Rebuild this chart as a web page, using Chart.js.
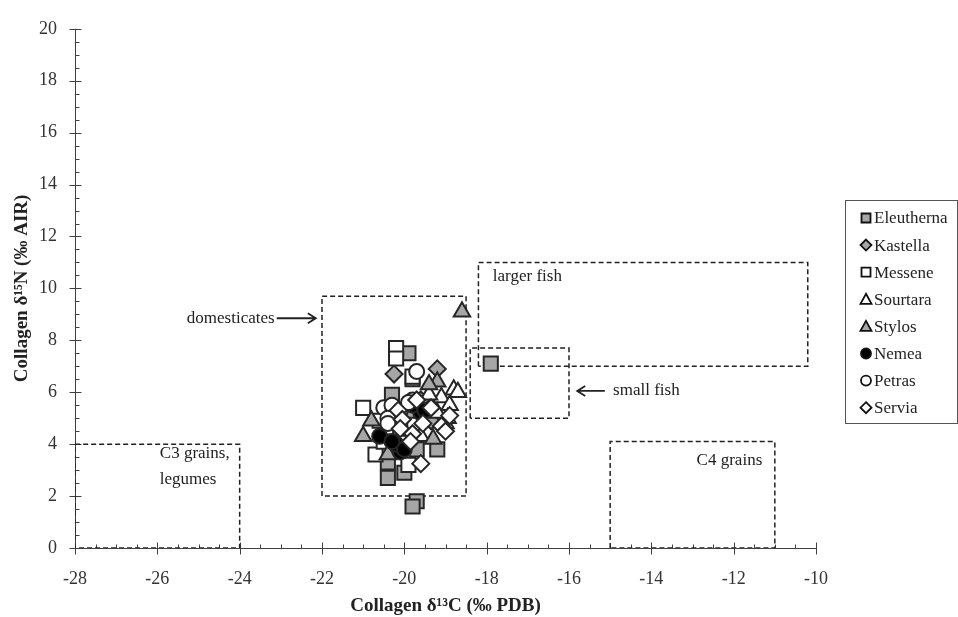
<!DOCTYPE html>
<html>
<head>
<meta charset="utf-8">
<script src="https://cdn.jsdelivr.net/npm/chart.js@4.4.1/dist/chart.umd.min.js"></script>
<style>
  body { margin: 0; background: #fff; }
  #wrap { width: 958px; height: 617px; }
</style>
</head>
<body>
<div id="wrap"><canvas id="isoChart" width="958" height="617"></canvas></div>
<script>
// site series (δ13C, δ15N)
const eleuthernaX = [-17.9, -19.7, -19.8, -20.4, -20.0, -19.2, -19.7, -19.9, -20.3, -19.8, -20.4, -19.5, -20.1];
const eleuthernaY = [7.1, 1.8, 1.6, 2.7, 2.9, 3.8, 3.8, 7.5, 5.9, 6.5, 3.3, 5.0, 4.6];
const kastellaX = [-20.25, -19.2, -19.6, -19.35];
const kastellaY = [6.7, 6.9, 5.7, 4.9];
const messeneX = [-20.2, -20.2, -21.0, -20.7, -19.8, -20.5, -19.9, -20.6];
const messeneY = [7.7, 7.3, 5.4, 3.6, 6.6, 4.1, 3.2, 4.9];
const sourtaraX = [-18.8, -18.7, -19.1, -18.9, -19.2, -19.4, -19.0, -19.6, -18.95];
const sourtaraY = [6.1, 6.0, 5.8, 5.5, 5.2, 5.9, 4.8, 4.3, 5.0];
const stylosX = [-18.6, -19.2, -19.4, -21.0, -20.4, -19.3, -20.8, -19.8];
const stylosY = [9.1, 6.4, 6.3, 4.3, 3.6, 4.2, 4.9, 5.2];
const nemeaX = [-20.6, -20.1, -20.2, -19.6, -20.0, -19.8, -20.3, -19.5];
const nemeaY = [4.3, 3.7, 4.0, 5.2, 3.8, 5.5, 4.1, 5.3];
const petrasX = [-19.7, -20.5, -20.3, -20.4, -19.8, -20.1, -20.4, -19.9];
const petrasY = [6.8, 5.4, 5.5, 5.0, 5.7, 5.3, 4.8, 5.6];
const serviaX = [-20.15, -19.7, -20.05, -20.1, -19.8, -19.85, -19.6, -19.1, -18.9, -19.55, -19.35, -19.0];
const serviaY = [5.3, 5.7, 4.95, 4.6, 4.4, 4.1, 3.25, 4.7, 5.1, 4.8, 5.4, 4.5];

const siteNames = ['Eleutherna', 'Kastella', 'Messene', 'Sourtara', 'Stylos', 'Nemea', 'Petras', 'Servia'];
const siteX = [eleuthernaX, kastellaX, messeneX, sourtaraX, stylosX, nemeaX, petrasX, serviaX];
const siteY = [eleuthernaY, kastellaY, messeneY, sourtaraY, stylosY, nemeaY, petrasY, serviaY];

// food-source boxes
const boxNames = ['C3 grains', 'domesticates', 'larger fish', 'small fish', 'C4 grains'];
const boxX0 = [-28, -22, -18.2, -18.4, -15];
const boxX1 = [-24, -18.5, -10.2, -16, -11];
const boxY0 = [0, 2, 7, 5, 0];
const boxY1 = [4, 9.7, 11, 7.7, 4.1];

const xMin = -28, xMax = -10, yMin = 0, yMax = 20;

const serif = "'Liberation Serif', 'Times New Roman', serif";
const grey = '#a6a6a6';
const edge = '#262626';

const markerStyle = {
  Eleutherna: { pointStyle: 'rect', fill: grey, r: 10 },
  Kastella: { pointStyle: 'rectRot', fill: grey, r: 8.5 },
  Messene: { pointStyle: 'rect', fill: '#fff', r: 10 },
  Sourtara: { pointStyle: 'triangle', fill: '#fff', r: 9.5 },
  Stylos: { pointStyle: 'triangle', fill: grey, r: 9.5 },
  Nemea: { pointStyle: 'circle', fill: '#000', r: 7.5 },
  Petras: { pointStyle: 'circle', fill: '#fff', r: 7.5 },
  Servia: { pointStyle: 'rectRot', fill: '#fff', r: 8.5 }
};

const datasets = siteNames.map((name, i) => {
  const m = markerStyle[name];
  return {
    label: name,
    data: siteX[i].map((x, k) => ({ x: x, y: siteY[i][k] })),
    pointStyle: m.pointStyle,
    pointRadius: m.r,
    backgroundColor: m.fill,
    borderColor: edge,
    borderWidth: 2,
    order: siteNames.length - i
  };
});

boxNames.forEach((name, i) => {
  datasets.push({
    label: name,
    data: [
      { x: boxX0[i], y: boxY0[i] }, { x: boxX0[i], y: boxY1[i] },
      { x: boxX1[i], y: boxY1[i] }, { x: boxX1[i], y: boxY0[i] },
      { x: boxX0[i], y: boxY0[i] }
    ],
    showLine: true,
    pointRadius: 0,
    borderColor: '#222',
    borderWidth: 1.5,
    borderDash: [5, 3],
    fill: false,
    order: 100
  });
});

// axis lines and tick marks
const axisTicks = {
  id: 'axisTicks',
  beforeDatasetsDraw(chart) {
    const { ctx, scales: { x, y } } = chart;
    ctx.save();
    ctx.strokeStyle = '#404040';
    ctx.lineWidth = 1;
    ctx.beginPath();
    const ax = Math.round(x.getPixelForValue(xMin)) + 0.5;
    const ay = Math.round(y.getPixelForValue(yMin)) + 0.5;
    ctx.moveTo(ax, y.getPixelForValue(yMax));
    ctx.lineTo(ax, ay);
    ctx.lineTo(x.getPixelForValue(xMax), ay);
    for (let v = yMin; v <= yMax; v += 0.5) {
      const py = Math.round(y.getPixelForValue(v)) + 0.5;
      const major = v % 2 === 0;
      ctx.moveTo(ax - (major ? 6 : 0), py);
      ctx.lineTo(ax + (major ? 6 : 4), py);
    }
    for (let v = xMin; v <= xMax; v += 0.5) {
      const px = Math.round(x.getPixelForValue(v)) + 0.5;
      const major = v % 2 === 0;
      ctx.moveTo(px, ay + (major ? 6 : 0));
      ctx.lineTo(px, ay - (major ? 6 : 4));
    }
    ctx.stroke();
    ctx.restore();
  }
};

function arrow(ctx, x0, y0, x1, y1) {
  const dir = Math.sign(x1 - x0);
  ctx.beginPath();
  ctx.moveTo(x0, y0);
  ctx.lineTo(x1, y1);
  ctx.moveTo(x1 - dir * 8, y1 - 5);
  ctx.lineTo(x1, y1);
  ctx.lineTo(x1 - dir * 8, y1 + 5);
  ctx.stroke();
}

// labels for the boxes
const boxLabels = {
  id: 'boxLabels',
  afterDatasetsDraw(chart) {
    const { ctx, scales: { x, y } } = chart;
    ctx.save();
    ctx.fillStyle = '#222';
    ctx.strokeStyle = '#222';
    ctx.lineWidth = 1.8;
    ctx.font = '17px ' + serif;
    ctx.textBaseline = 'middle';
    ctx.textAlign = 'right';
    ctx.fillText('domesticates', x.getPixelForValue(-23.15), y.getPixelForValue(8.85));
    arrow(ctx, x.getPixelForValue(-23.1), y.getPixelForValue(8.85), x.getPixelForValue(-22.15), y.getPixelForValue(8.85));
    ctx.textAlign = 'left';
    ctx.fillText('larger fish', x.getPixelForValue(-17.85), y.getPixelForValue(10.45));
    ctx.fillText('small fish', x.getPixelForValue(-14.93), y.getPixelForValue(6.08));
    arrow(ctx, x.getPixelForValue(-15.13), y.getPixelForValue(6.05), x.getPixelForValue(-15.8), y.getPixelForValue(6.05));
    ctx.fillText('C3 grains,', x.getPixelForValue(-25.94), y.getPixelForValue(3.62));
    ctx.fillText('legumes', x.getPixelForValue(-25.94), y.getPixelForValue(2.64));
    ctx.fillText('C4 grains', x.getPixelForValue(-12.9), y.getPixelForValue(3.36));
    ctx.restore();
  }
};

function drawMarker(ctx, style, cx, cy, r) {
  ctx.beginPath();
  if (style === 'rect') {
    ctx.rect(cx - r, cy - r, 2 * r, 2 * r);
  } else if (style === 'rectRot') {
    ctx.moveTo(cx, cy - r - 1); ctx.lineTo(cx + r + 1, cy); ctx.lineTo(cx, cy + r + 1); ctx.lineTo(cx - r - 1, cy); ctx.closePath();
  } else if (style === 'triangle') {
    ctx.moveTo(cx, cy - r - 1); ctx.lineTo(cx + r + 1, cy + r); ctx.lineTo(cx - r - 1, cy + r); ctx.closePath();
  } else {
    ctx.arc(cx, cy, r + 0.5, 0, Math.PI * 2);
  }
  ctx.fill();
  ctx.stroke();
}

// legend box at the right
const sideLegend = {
  id: 'sideLegend',
  afterDraw(chart) {
    const ctx = chart.ctx;
    const left = 845, top = 200, w = 112, h = 223;
    ctx.save();
    ctx.strokeStyle = '#555';
    ctx.lineWidth = 1;
    ctx.strokeRect(left + 0.5, top + 0.5, w, h);
    ctx.font = '17px ' + serif;
    ctx.textAlign = 'left';
    ctx.textBaseline = 'middle';
    siteNames.forEach((name, i) => {
      const m = markerStyle[name];
      const cy = top + 18 + i * 27.1;
      ctx.fillStyle = m.fill;
      ctx.strokeStyle = '#111';
      ctx.lineWidth = 1.8;
      drawMarker(ctx, m.pointStyle, left + 21, cy, 4.5);
      ctx.fillStyle = '#222';
      ctx.fillText(name, left + 29, cy + 1);
    });
    ctx.restore();
  }
};

new Chart(document.getElementById('isoChart'), {
  type: 'scatter',
  data: { datasets: datasets },
  options: {
    responsive: false,
    animation: false,
    layout: { padding: { top: 18, right: 142, left: 0, bottom: 0 } },
    plugins: {
      legend: { display: false },
      tooltip: { enabled: false }
    },
    scales: {
      x: {
        type: 'linear',
        min: xMin,
        max: xMax,
        afterFit(scale) { scale.height = 69; },
        grid: { display: false, drawTicks: false },
        border: { display: false },
        ticks: { stepSize: 2, padding: 20, color: '#333', font: { family: serif, size: 18 } },
        title: {
          display: true,
          text: 'Collagen δ¹³C (‰ PDB)',
          color: '#222',
          padding: { top: 0, bottom: 0 },
          font: { family: serif, size: 19, weight: 'bold' }
        }
      },
      y: {
        type: 'linear',
        min: yMin,
        max: yMax,
        afterFit(scale) { scale.width = 75; },
        grid: { display: false, drawTicks: false },
        border: { display: false },
        ticks: { stepSize: 2, padding: 18, color: '#333', font: { family: serif, size: 18 } },
        title: {
          display: true,
          text: 'Collagen δ¹⁵N (‰ AIR)',
          color: '#222',
          padding: { top: 11, bottom: 0 },
          font: { family: serif, size: 19, weight: 'bold' }
        }
      }
    }
  },
  plugins: [axisTicks, boxLabels, sideLegend]
});
</script>
</body>
</html>
